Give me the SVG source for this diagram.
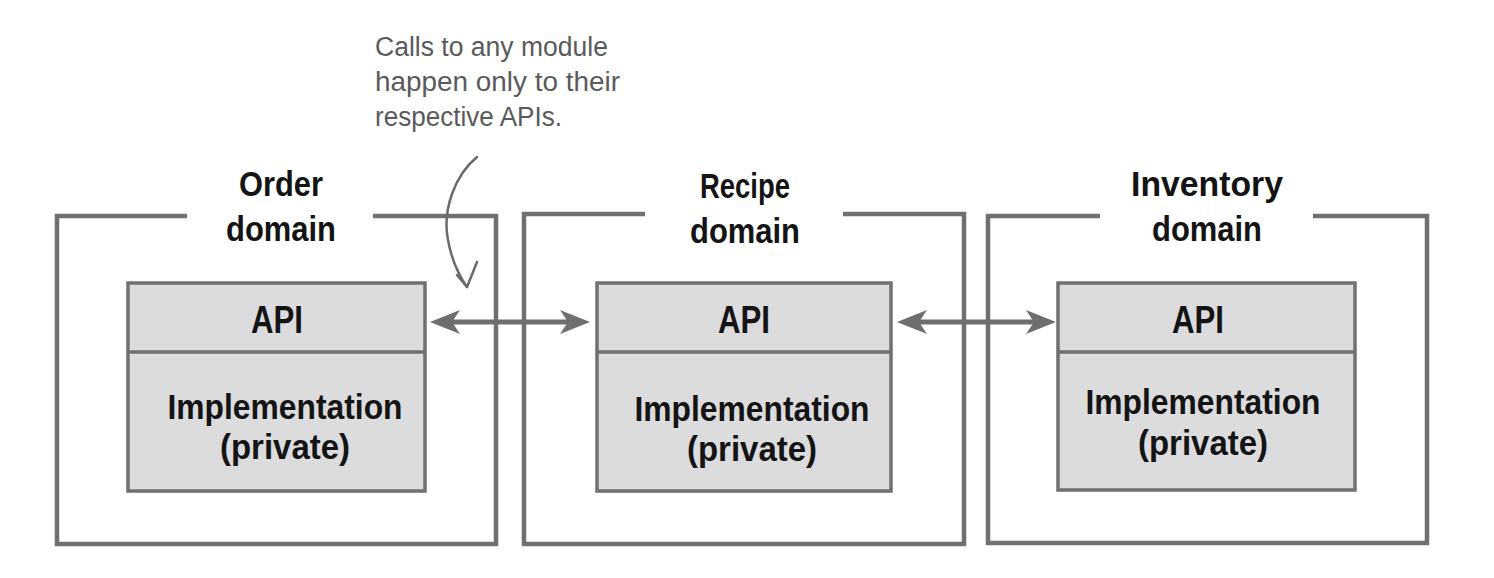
<svg xmlns="http://www.w3.org/2000/svg" width="1494" height="578" viewBox="0 0 1494 578">
  <style>
    .frame { fill: none; stroke: #707072; stroke-width: 4.5; stroke-linejoin: miter; }
    .module { fill: #dcdcde; stroke: #707072; stroke-width: 3.5; }
    .divider { stroke: #707072; stroke-width: 3.5; }
    .label { font-family: "Liberation Sans", Arial, sans-serif; font-weight: bold; font-size: 35px; fill: #141414; text-anchor: middle; }
    .api { font-size: 39px; }
    .note { font-family: "Liberation Sans", Arial, sans-serif; font-size: 27px; fill: #5a5a5c; }
    .link { stroke: #6e6e70; stroke-width: 5; fill: none; }
    .pointer { stroke: #6a6a6c; stroke-width: 2.5; fill: none; stroke-linecap: round; stroke-linejoin: round; }
  </style>
  <defs>
    <marker id="head" markerUnits="userSpaceOnUse" viewBox="-12 -14 34 28" refX="0" refY="0" markerWidth="34" markerHeight="28" orient="auto-start-reverse">
      <path d="M20,0 L-10,-12 L-2,0 L-10,12 Z" fill="#6e6e70"/>
    </marker>
  </defs>

  <rect width="1494" height="578" fill="#ffffff"/>

  <!-- Order domain -->
  <g id="order-domain">
    <path class="frame" d="M187,216 H57 V544 H496 V216 H373"/>
    <text class="label" x="281" y="196" textLength="84" lengthAdjust="spacingAndGlyphs">Order</text>
    <text class="label" x="281" y="241" textLength="110" lengthAdjust="spacingAndGlyphs">domain</text>
    <rect class="module" x="128" y="283" width="297" height="208"/>
    <line class="divider" x1="128" y1="352" x2="425" y2="352"/>
    <text class="label api" x="277" y="333" textLength="52" lengthAdjust="spacingAndGlyphs">API</text>
    <text class="label" x="285" y="419" textLength="235" lengthAdjust="spacingAndGlyphs">Implementation</text>
    <text class="label" x="285" y="459" textLength="130" lengthAdjust="spacingAndGlyphs">(private)</text>
  </g>

  <!-- Recipe domain -->
  <g id="recipe-domain">
    <path class="frame" d="M645,214 H524 V544 H964 V214 H843"/>
    <text class="label" x="745" y="198" textLength="90" lengthAdjust="spacingAndGlyphs">Recipe</text>
    <text class="label" x="745" y="243" textLength="110" lengthAdjust="spacingAndGlyphs">domain</text>
    <rect class="module" x="597" y="283" width="294" height="208"/>
    <line class="divider" x1="597" y1="352" x2="891" y2="352"/>
    <text class="label api" x="744" y="333" textLength="52" lengthAdjust="spacingAndGlyphs">API</text>
    <text class="label" x="752" y="421" textLength="235" lengthAdjust="spacingAndGlyphs">Implementation</text>
    <text class="label" x="752" y="461" textLength="130" lengthAdjust="spacingAndGlyphs">(private)</text>
  </g>

  <!-- Inventory domain -->
  <g id="inventory-domain">
    <path class="frame" d="M1100,216 H988 V543 H1427 V216 H1313"/>
    <text class="label" x="1207" y="196" textLength="152" lengthAdjust="spacingAndGlyphs">Inventory</text>
    <text class="label" x="1207" y="241" textLength="110" lengthAdjust="spacingAndGlyphs">domain</text>
    <rect class="module" x="1058" y="283" width="297" height="207"/>
    <line class="divider" x1="1058" y1="352" x2="1355" y2="352"/>
    <text class="label api" x="1198" y="333" textLength="52" lengthAdjust="spacingAndGlyphs">API</text>
    <text class="label" x="1203" y="414" textLength="235" lengthAdjust="spacingAndGlyphs">Implementation</text>
    <text class="label" x="1203" y="455" textLength="130" lengthAdjust="spacingAndGlyphs">(private)</text>
  </g>

  <!-- Annotation -->
  <g id="note">
    <text class="note" x="375" y="56" textLength="233" lengthAdjust="spacingAndGlyphs">Calls to any module</text>
    <text class="note" x="375" y="91" textLength="245" lengthAdjust="spacingAndGlyphs">happen only to their</text>
    <text class="note" x="375" y="126" textLength="187" lengthAdjust="spacingAndGlyphs">respective APIs.</text>
  </g>

  <!-- Connectors -->
  <g id="connectors">
    <line class="link" x1="450" y1="322" x2="570" y2="322" marker-start="url(#head)" marker-end="url(#head)"/>
    <line class="link" x1="917" y1="322" x2="1036" y2="322" marker-start="url(#head)" marker-end="url(#head)"/>
    <path class="pointer" d="M477,157 C455,175 442,210 448,240 C452,262 460,277 467,287"/>
    <path class="pointer" d="M457,275 L467,287 L477,262"/>
  </g>
</svg>
